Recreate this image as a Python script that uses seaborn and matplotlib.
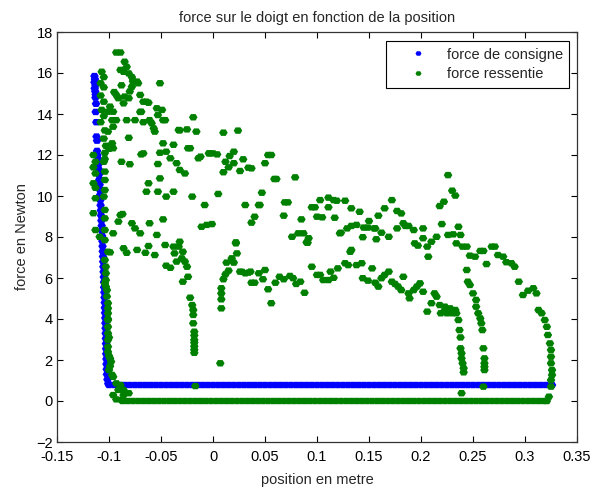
import matplotlib
matplotlib.use("Agg")
import matplotlib.pyplot as plt
from matplotlib.path import Path
import numpy as np
import pandas as pd
import seaborn as sns

# force de consigne : descente le long du bord gauche puis palier
consigne_descente_x = [-0.1140, -0.1135, -0.1140, -0.1130, -0.1138, -0.1132, -0.1128, -0.1130, -0.1125,
                       -0.1128, -0.1122, -0.1120, -0.1115, -0.1115, -0.1112, -0.1110,
                       -0.1103, -0.1100, -0.1098, -0.1096, -0.1093, -0.1090, -0.1088, -0.1086, -0.1083,
                       -0.1081, -0.1078, -0.1076, -0.1073, -0.1070, -0.1068, -0.1066, -0.1064, -0.1062,
                       -0.1060, -0.1058, -0.1056, -0.1054, -0.1052, -0.1050, -0.1048, -0.1047, -0.1045,
                       -0.1043, -0.1041, -0.1040, -0.1038, -0.1036, -0.1035, -0.1033, -0.1032, -0.1030,
                       -0.1029, -0.1028, -0.1027, -0.1025, -0.1024, -0.1022, -0.1020, -0.1015, -0.1007]
consigne_descente_y = [15.85, 15.7, 15.55, 15.4, 15.25, 15.1, 14.95, 14.8, 14.5,
                       14.1, 13.6, 12.9, 12.7, 12.2, 12.0, 11.6,
                       11.8, 11.55, 11.3, 11.05, 10.8, 10.55, 10.3, 10.05, 9.8,
                       9.55, 9.3, 9.05, 8.8, 8.55, 8.3, 8.05, 7.8, 7.55,
                       7.3, 7.05, 6.8, 6.55, 6.3, 6.05, 5.8, 5.55, 5.3,
                       5.05, 4.8, 4.55, 4.3, 4.05, 3.8, 3.55, 3.3, 3.05,
                       2.8, 2.55, 2.3, 2.05, 1.8, 1.55, 1.3, 1.05, 0.85]
consigne_palier_x = [-0.100, -0.095, -0.090, -0.085, -0.080, -0.075, -0.070, -0.065, -0.060, -0.055,
                     -0.050, -0.045, -0.040, -0.035, -0.030, -0.025, -0.020, -0.015, -0.010, -0.005,
                     0.000, 0.005, 0.010, 0.015, 0.020, 0.025, 0.030, 0.035, 0.040, 0.045,
                     0.050, 0.055, 0.060, 0.065, 0.070, 0.075, 0.080, 0.085, 0.090, 0.095,
                     0.100, 0.105, 0.110, 0.115, 0.120, 0.125, 0.130, 0.135, 0.140, 0.145,
                     0.150, 0.155, 0.160, 0.165, 0.170, 0.175, 0.180, 0.185, 0.190, 0.195,
                     0.200, 0.205, 0.210, 0.215, 0.220, 0.225, 0.230, 0.235, 0.240, 0.245,
                     0.250, 0.255, 0.260, 0.265, 0.270, 0.275, 0.280, 0.285, 0.290, 0.295,
                     0.300, 0.305, 0.310, 0.315, 0.320, 0.326]
consigne_palier_y = 0.78

# force ressentie : bande le long du bord gauche
bord_x = [-0.107, -0.105, -0.108, -0.105, -0.108, -0.105, -0.107, -0.105, -0.108, -0.104,
          -0.105, -0.103, -0.100, -0.104, -0.104, -0.115, -0.113, -0.115, -0.113, -0.115,
          -0.113, -0.105, -0.104, -0.104, -0.104, -0.105, -0.113, -0.115, -0.104, -0.104,
          -0.113, -0.109, -0.104, -0.104, -0.101, -0.104, -0.103, -0.103, -0.103, -0.103,
          -0.104, -0.102, -0.102, -0.101, -0.101, -0.101, -0.101, -0.101, -0.101, -0.101,
          -0.101, -0.100, -0.101, -0.101, -0.100, -0.099, -0.099, -0.098, -0.100, -0.097,
          -0.096, -0.093, -0.089, -0.091, -0.086, -0.096, -0.086, -0.081, -0.093, -0.088]
bord_y = [16.06, 15.8, 15.5, 15.3, 14.9, 14.6, 14.2, 13.9, 13.6, 13.2,
          12.8, 12.45, 12.3, 12.1, 11.8, 12.0, 11.67, 11.4, 11.1, 10.62,
          10.4, 11.67, 11.19, 10.78, 10.29, 9.97, 9.89, 9.16, 9.32, 8.91,
          8.34, 8.01, 8.34, 7.85, 7.28, 6.88, 6.55, 6.23, 5.9, 5.58,
          5.74, 5.41, 5.1, 4.77, 4.52, 4.28, 4.0, 3.95, 3.62, 3.3,
          2.98, 3.1, 2.65, 2.4, 2.2, 2.08, 1.7, 1.92, 1.51, 1.27,
          1.18, 0.86, 0.78, 0.54, 0.54, 0.29, 0.29, 0.38, 0.08, 0.05]

# nuage haut gauche
haut_x = [-0.093, -0.089, -0.085, -0.083, -0.086, -0.089, -0.081, -0.078, -0.077, -0.051,
          -0.088, -0.072, -0.078, -0.080, -0.070, -0.095, -0.093, -0.091, -0.085, -0.081,
          -0.067, -0.062, -0.086, -0.099, -0.101, -0.096, -0.097, -0.093, -0.096, -0.101,
          -0.097, -0.096, -0.083, -0.075, -0.070, -0.067, -0.059, -0.054, -0.049, -0.053,
          -0.048, -0.057, -0.056, -0.081, -0.032, -0.025, -0.016, -0.019, -0.048, -0.038,
          -0.067, -0.045, -0.041, -0.022, -0.014, -0.004, -0.088, -0.080, -0.053, -0.035,
          -0.073, -0.064, -0.069, -0.061, -0.046, -0.033, -0.024, -0.069, -0.051, -0.032,
          -0.027, -0.012, -0.003, -0.051, -0.062, -0.064, -0.038, -0.053, -0.045, -0.020]
haut_y = [17.0, 17.0, 16.55, 16.3, 16.06, 16.15, 15.98, 15.8, 15.6, 15.5,
          15.4, 15.5, 15.33, 15.1, 14.93, 15.07, 14.93, 14.77, 14.85, 14.77,
          14.6, 14.55, 14.52, 14.36, 14.11, 14.11, 13.7, 13.7, 13.38, 13.14,
          12.57, 12.33, 13.7, 13.7, 14.1, 13.6, 13.55, 14.28, 14.2, 13.95,
          13.7, 13.3, 13.14, 12.84, 13.2, 13.25, 13.14, 13.84, 12.57, 12.5,
          12.08, 12.16, 11.84, 12.33, 11.84, 12.08, 11.67, 11.55, 11.56, 11.6,
          15.58, 14.6, 14.11, 13.7, 13.7, 13.22, 12.33, 12.03, 12.11, 11.27,
          11.1, 11.92, 12.08, 10.86, 10.62, 10.21, 10.21, 10.21, 9.97, 9.97]

# nuage haut, partie centrale et droite
arc_x = [0.024, 0.010, 0.000, 0.004, 0.020, 0.016, 0.029, 0.020, 0.015, 0.010,
         0.026, 0.034, 0.005, -0.008, 0.031, -0.006, -0.001, -0.011, 0.022, 0.012,
         0.056, 0.050, 0.037, 0.061, 0.079, 0.047, 0.044, 0.069, 0.040, 0.068,
         0.037, 0.076, 0.082, 0.087, 0.090, 0.085, 0.095, 0.100, 0.105, 0.103,
         0.111, 0.111, 0.119, 0.127, 0.117, 0.123, 0.129, 0.133, 0.138, 0.133,
         0.141, 0.144, 0.149, 0.150, 0.156, 0.157, 0.162, 0.159, 0.165, 0.169,
         0.172, 0.177, 0.181, 0.177, 0.183, 0.188, 0.193, 0.194, 0.197, 0.202,
         0.202, 0.206, 0.207, 0.210, 0.215, 0.220, 0.218, 0.222, 0.226, 0.230,
         0.233, 0.226, 0.231, 0.236, 0.238, 0.234, 0.240, 0.244, 0.247, 0.252,
         0.257, 0.260, 0.263, 0.268, 0.271, 0.274, 0.279, 0.282, 0.287, 0.290,
         0.053, 0.059, 0.045, 0.072, 0.098, 0.116, 0.122, 0.145, 0.185, 0.155]
arc_y = [13.19, 13.09, 12.08, 12.03, 12.16, 11.95, 11.79, 11.6, 11.4, 11.16,
         11.22, 11.38, 10.1, 9.56, 9.56, 8.59, 8.63, 8.5, 7.74, 11.67,
         12.0, 11.6, 11.35, 10.83, 10.91, 10.16, 9.56, 9.69, 8.99, 9.04,
         8.7, 8.01, 8.18, 8.18, 7.74, 8.86, 9.45, 8.99, 8.96, 9.8,
         9.92, 9.45, 9.77, 9.77, 8.94, 8.21, 8.42, 8.54, 8.59, 9.4,
         9.23, 7.99, 8.46, 8.78, 8.42, 7.89, 8.21, 9.04, 9.4, 8.01,
         9.8, 9.27, 9.15, 8.42, 8.67, 8.54, 8.34, 7.69, 7.58, 8.42,
         7.94, 7.53, 7.04, 7.77, 8.01, 8.63, 9.51, 9.72, 11.02, 10.26,
         10.02, 8.1, 8.13, 8.5, 8.1, 7.69, 7.53, 7.53, 7.09, 7.04,
         7.32, 7.32, 6.68, 7.53, 7.53, 7.12, 7.04, 6.77, 6.72, 6.55,
         12.0, 10.83, 9.56, 9.69, 9.45, 9.8, 8.18, 8.46, 8.54, 8.42]

# bande basse (4 a 8 N)
bas_x = [-0.089, -0.091, -0.087, -0.078, -0.075, -0.070, -0.061, -0.054, -0.048, -0.096,
         -0.099, -0.086, -0.083, -0.073, -0.065, -0.062, -0.056, -0.046, -0.038, -0.033,
         -0.032, -0.037, -0.029, -0.030, -0.035, -0.027, -0.045, -0.041, -0.025, -0.024,
         -0.029, 0.023, 0.018, 0.013, 0.020, 0.015, 0.012, 0.010, 0.008, 0.008,
         0.008, 0.008, 0.026, 0.031, 0.034, 0.028, 0.022,
         0.036, 0.044, 0.050, 0.048, 0.037, 0.040, 0.053, 0.056, 0.060, 0.064,
         0.068, 0.074, 0.077, 0.080, 0.084, 0.088, 0.095, 0.100, 0.103, 0.106,
         0.113, 0.111, 0.116, 0.120, 0.127, 0.130, 0.132, 0.138, 0.143, 0.144,
         0.149, 0.153, 0.156, 0.159, 0.162, 0.165, 0.169, 0.172, 0.175, 0.178,
         0.181, 0.183, 0.188, 0.189, 0.193, 0.196, 0.199, 0.202, 0.206, 0.210,
         0.213, 0.219, 0.223, 0.133, 0.091, 0.092]
bas_y = [9.07, 8.75, 9.12, 8.67, 8.42, 8.18, 8.67, 8.1, 8.86, 8.18,
         7.25, 7.45, 7.23, 7.37, 7.23, 7.56, 7.12, 7.61, 7.53, 7.53,
         7.77, 7.2, 7.28, 6.96, 6.8, 6.8, 6.6, 6.5, 6.55, 6.06,
         5.82, 7.2, 6.96, 6.75, 6.75, 6.36, 6.18, 5.94, 5.5, 5.25,
         4.96, 4.52, 6.31, 6.23, 6.26, 6.3, 7.69,
         6.31, 6.23, 6.39, 5.94, 5.77, 5.77, 5.45, 4.77, 5.77, 6.06,
         5.94, 6.1, 5.99, 5.71, 5.82, 5.28, 6.55, 6.15, 6.15, 5.9,
         6.31, 5.9, 6.01, 6.47, 6.72, 6.63, 7.28, 6.63, 6.72, 5.99,
         5.87, 6.47, 5.77, 5.58, 5.99, 6.15, 6.31, 5.82, 5.71, 5.58,
         5.41, 6.06, 5.25, 5.01, 5.41, 5.58, 5.74, 5.33, 4.36, 4.77,
         5.25, 4.28, 4.6, 7.37, 7.72, 7.94]

# creux de force (chutes verticales)
creux_x = [-0.022, -0.020, -0.019, -0.019, -0.019, -0.018, -0.018, -0.018, -0.018, -0.018,
           -0.018, -0.018, -0.017, 0.007,
           0.215, 0.218, 0.222, 0.225, 0.228, 0.230, 0.233, 0.234, 0.236, 0.237,
           0.238, 0.238, 0.239, 0.239, 0.240, 0.241, 0.241, 0.239,
           0.244, 0.245, 0.247, 0.250, 0.253, 0.253, 0.255, 0.257, 0.258, 0.259,
           0.260, 0.261, 0.261, 0.261, 0.261, 0.260,
           0.294, 0.298, 0.303, 0.308, 0.311, 0.313, 0.316, 0.319, 0.321, 0.322,
           0.324, 0.325, 0.325, 0.325, 0.326, 0.326, 0.325, 0.325, 0.323]
creux_y = [5.04, 4.68, 4.44, 4.2, 3.79, 3.38, 3.2, 2.98, 2.85, 2.67,
           2.5, 2.35, 0.73, 1.84,
           5.09, 4.68, 4.36, 4.28, 4.52, 4.28, 4.44, 4.28, 3.95, 3.46,
           3.1, 2.57, 2.33, 2.08, 1.84, 1.6, 1.4, 0.38,
           6.39, 5.82, 5.66, 5.25, 4.93, 4.6, 4.28, 4.03, 3.79, 3.46,
           2.57, 2.08, 1.84, 1.67, 1.51, 0.7,
           5.82, 5.17, 5.38, 5.5, 5.25, 4.44, 4.28, 3.95, 3.62, 3.22,
           2.81, 2.49, 2.16, 1.84, 1.51, 1.27, 1.02, 0.7, 0.21]

# palier bas de la force ressentie
ressentie_palier_x = [-0.087, -0.082, -0.077, -0.072, -0.067, -0.062, -0.057, -0.052, -0.047, -0.042,
                      -0.037, -0.032, -0.027, -0.022, -0.017, -0.012, -0.007, -0.002, 0.003, 0.008,
                      0.013, 0.018, 0.023, 0.028, 0.033, 0.038, 0.043, 0.048, 0.053, 0.058,
                      0.063, 0.068, 0.073, 0.078, 0.083, 0.088, 0.093, 0.098, 0.103, 0.108,
                      0.113, 0.118, 0.123, 0.128, 0.133, 0.138, 0.143, 0.148, 0.153, 0.158,
                      0.163, 0.168, 0.173, 0.178, 0.183, 0.188, 0.193, 0.198, 0.203, 0.208,
                      0.213, 0.218, 0.223, 0.228, 0.233, 0.238, 0.243, 0.248, 0.253, 0.258,
                      0.263, 0.268, 0.273, 0.278, 0.283, 0.288, 0.293, 0.298, 0.303, 0.308,
                      0.313, 0.318, 0.321]
ressentie_palier_y = 0.0

series = ["force de consigne", "force ressentie"]
colors = ["#0000ff", "#008000"]

consigne = pd.DataFrame({
    "x": consigne_descente_x + consigne_palier_x,
    "y": consigne_descente_y + [consigne_palier_y] * len(consigne_palier_x),
})
consigne["serie"] = series[0]
ressentie = pd.DataFrame({
    "x": bord_x + haut_x + arc_x + bas_x + creux_x + ressentie_palier_x,
    "y": bord_y + haut_y + arc_y + bas_y + creux_y + [ressentie_palier_y] * len(ressentie_palier_x),
})
ressentie["serie"] = series[1]
df = pd.concat([consigne, ressentie], ignore_index=True)

# petit marqueur un peu plus large que haut, comme les points matlab
blob = Path([(-1, 0), (-0.55, 0.75), (0.55, 0.75), (1, 0), (0.55, -0.75), (-0.55, -0.75), (-1, 0)],
            closed=True)

sns.set_style("white")
plt.rcParams["font.family"] = ["Liberation Sans", "DejaVu Sans"]

fig = plt.figure(figsize=(5.92, 4.88), dpi=100)
ax = fig.add_axes([57 / 592, 1 - 442 / 488, 520 / 592, 410 / 488])

sns.scatterplot(data=df, x="x", y="y", hue="serie", hue_order=series,
                palette=colors, marker=blob, s=38, linewidth=0, ax=ax)

ax.set_xlim(-0.15, 0.35)
ax.set_ylim(-2, 18)
xticks = [-0.15, -0.1, -0.05, 0, 0.05, 0.1, 0.15, 0.2, 0.25, 0.3, 0.35]
xtick_labels = ["-0.15", "-0.1", "-0.05", "0", "0.05", "0.1", "0.15", "0.2", "0.25", "0.3", "0.35"]
ax.set_xticks(xticks)
ax.set_xticklabels(xtick_labels)
ax.set_yticks(range(-2, 19, 2))
ax.tick_params(direction="in", top=True, right=True, bottom=True, left=True,
               length=4, width=0.8, labelsize=10.5, colors="black")
ax.tick_params(axis="x", pad=6)
ax.tick_params(axis="y", pad=3)
for sp in ax.spines.values():
    sp.set_color("#333333")
    sp.set_linewidth(0.9)

ax.set_title("force sur le doigt en fonction de la position", fontsize=10.5, pad=7)
ax.set_xlabel("position en metre", fontsize=10.5, labelpad=6)
ax.set_ylabel("force en Newton", fontsize=10.5, labelpad=5)

leg = ax.legend(loc="upper right", bbox_to_anchor=(0.985, 0.978), borderaxespad=0,
                fancybox=False, frameon=True, fontsize=10.5, markerscale=0.7,
                handlelength=3.5, handletextpad=0.2, borderpad=0.45, labelspacing=0.4)
leg.get_frame().set_edgecolor("black")
leg.get_frame().set_linewidth(0.8)
leg.get_frame().set_alpha(1)

fig.savefig("out.png", dpi=100, facecolor="white")
